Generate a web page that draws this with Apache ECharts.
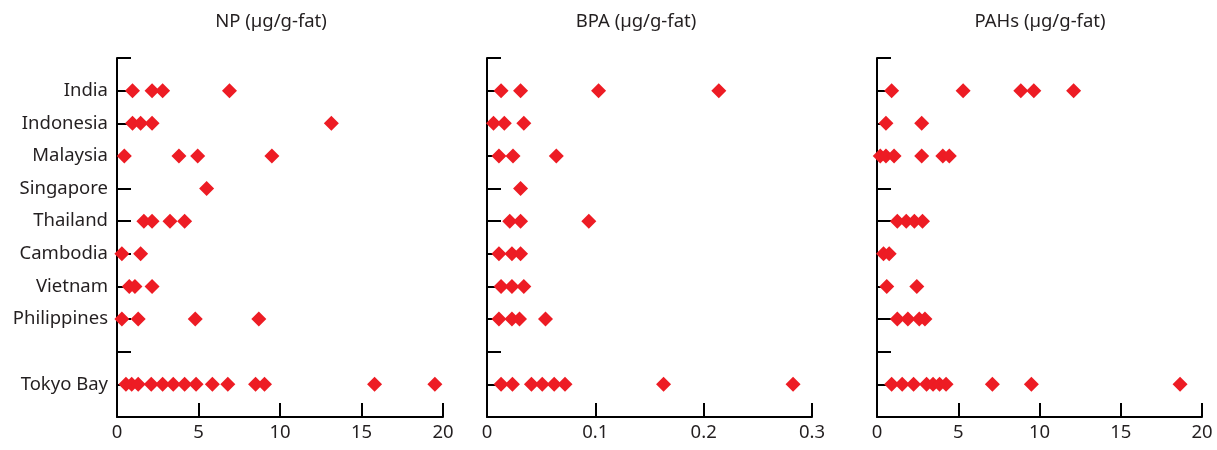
<!DOCTYPE html>
<html><head><meta charset="utf-8">
<script src="https://cdn.jsdelivr.net/npm/echarts@6/dist/echarts.min.js"></script>
<style>html,body{margin:0;padding:0;background:#fff}#c{width:1217px;height:450px}</style>
</head><body><div id="c"></div>
<script>
// Categories (top to bottom); '' is the empty gap row
const categories = ['India','Indonesia','Malaysia','Singapore','Thailand','Cambodia','Vietnam','Philippines','','Tokyo Bay'];
const panelTitles = ['NP (µg/g-fat)','BPA (µg/g-fat)','PAHs (µg/g-fat)'];
const xTicksNP = [0,5,10,15,20];
const xTicksBPA = [0,0.1,0.2,0.3];
const xTicksPAH = [0,5,10,15,20];

// NP values per category
const npIndia = [0.95, 2.15, 2.8, 6.9];
const npIndonesia = [0.95, 1.45, 2.15, 13.15];
const npMalaysia = [0.45, 3.8, 4.95, 9.5];
const npSingapore = [5.5];
const npThailand = [1.65, 2.15, 3.25, 4.15];
const npCambodia = [0.3, 1.45];
const npVietnam = [0.75, 1.1, 2.15];
const npPhilippines = [0.3, 1.3, 4.8, 8.7];
const npTokyoBay = [0.55, 0.9, 1.3, 2.1, 2.8, 3.45, 4.15, 4.85, 5.85, 6.8, 8.5, 9.05, 15.8, 19.5];

// BPA values per category
const bpaIndia = [0.013, 0.031, 0.103, 0.214];
const bpaIndonesia = [0.006, 0.016, 0.034];
const bpaMalaysia = [0.011, 0.024, 0.064];
const bpaSingapore = [0.031];
const bpaThailand = [0.021, 0.031, 0.094];
const bpaCambodia = [0.011, 0.023, 0.031];
const bpaVietnam = [0.013, 0.023, 0.034];
const bpaPhilippines = [0.011, 0.023, 0.030, 0.054];
const bpaTokyoBay = [0.013, 0.0235, 0.041, 0.051, 0.062, 0.072, 0.163, 0.2825];

// PAHs values per category
const pahIndia = [0.9, 5.3, 8.85, 9.65, 12.1];
const pahIndonesia = [0.55, 2.75];
const pahMalaysia = [0.2, 0.55, 1.05, 2.75, 4.05, 4.45];
const pahSingapore = [];
const pahThailand = [1.25, 1.8, 2.3, 2.8];
const pahCambodia = [0.4, 0.75];
const pahVietnam = [0.6, 2.45];
const pahPhilippines = [1.25, 1.9, 2.6, 2.95];
const pahTokyoBay = [0.9, 1.55, 2.25, 3.05, 3.45, 3.85, 4.25, 7.1, 9.5, 18.65];

const npRows = [npIndia, npIndonesia, npMalaysia, npSingapore, npThailand, npCambodia, npVietnam, npPhilippines, [], npTokyoBay];
const bpaRows = [bpaIndia, bpaIndonesia, bpaMalaysia, bpaSingapore, bpaThailand, bpaCambodia, bpaVietnam, bpaPhilippines, [], bpaTokyoBay];
const pahRows = [pahIndia, pahIndonesia, pahMalaysia, pahSingapore, pahThailand, pahCambodia, pahVietnam, pahPhilippines, [], pahTokyoBay];

function toPoints(rows){
  const pts = [];
  rows.forEach((vals, i) => vals.forEach(v => pts.push([v, i + 1])));
  return pts;
}

const FONT = 'Noto Sans';
const TXT = '#231F20';
const RED = '#ED1C24';
const FS = 18.5;

const grids = [
  {left:117, width:326, top:58, height:359},
  {left:487, width:325, top:58, height:359},
  {left:877, width:325, top:58, height:359}
];
const xSpecs = [
  {ticks:xTicksNP, max:20, interval:5},
  {ticks:xTicksBPA, max:0.3, interval:0.1},
  {ticks:xTicksPAH, max:20, interval:5}
];
const titleX = [271, 636, 1040];

const option = {
  animation:false,
  backgroundColor:'#fff',
  grid: grids,
  xAxis: xSpecs.map((s, i) => ({
    type:'value', gridIndex:i, min:0, max:s.max, interval:s.interval, position:'bottom',
    axisLine:{show:true, onZero:false, lineStyle:{color:'#000', width:2}},
    axisTick:{show:true, inside:true, length:14, lineStyle:{color:'#000', width:2}},
    splitLine:{show:false},
    axisLabel:{color:TXT, fontFamily:FONT, fontSize:FS, margin:6,
      formatter: v => { const t = s.ticks.find(x => Math.abs(x - v) < 1e-9); return t === undefined ? '' : String(t); }}
  })),
  yAxis: [0,1,2].map(i => ({
    type:'value', gridIndex:i, min:0, max:11, interval:1, inverse:true, position:'left',
    axisLine:{show:true, onZero:false, lineStyle:{color:'#000', width:2}},
    axisTick:{show:true, inside:true, length:14, lineStyle:{color:'#000', width:2}},
    splitLine:{show:false},
    axisLabel:{show:i === 0, color:TXT, fontFamily:FONT, fontSize:FS, margin:9,
      formatter: v => (v >= 1 && v <= categories.length) ? categories[v - 1] : ''}
  })),
  series: [npRows, bpaRows, pahRows].map((rows, i) => ({
    type:'scatter', xAxisIndex:i, yAxisIndex:i, symbol:'diamond', symbolSize:15,
    itemStyle:{color:RED, opacity:1}, data: toPoints(rows), silent:true
  })),
  graphic: panelTitles.map((t, i) => ({
    type:'text', x: titleX[i], y: 22,
    style:{text:t, fill:TXT, font:FS + 'px "' + FONT + '"', align:'center', verticalAlign:'middle'}
  }))
};

const chart = echarts.init(document.getElementById('c'), null, {renderer:'canvas'});
chart.setOption(option);
</script></body></html>
